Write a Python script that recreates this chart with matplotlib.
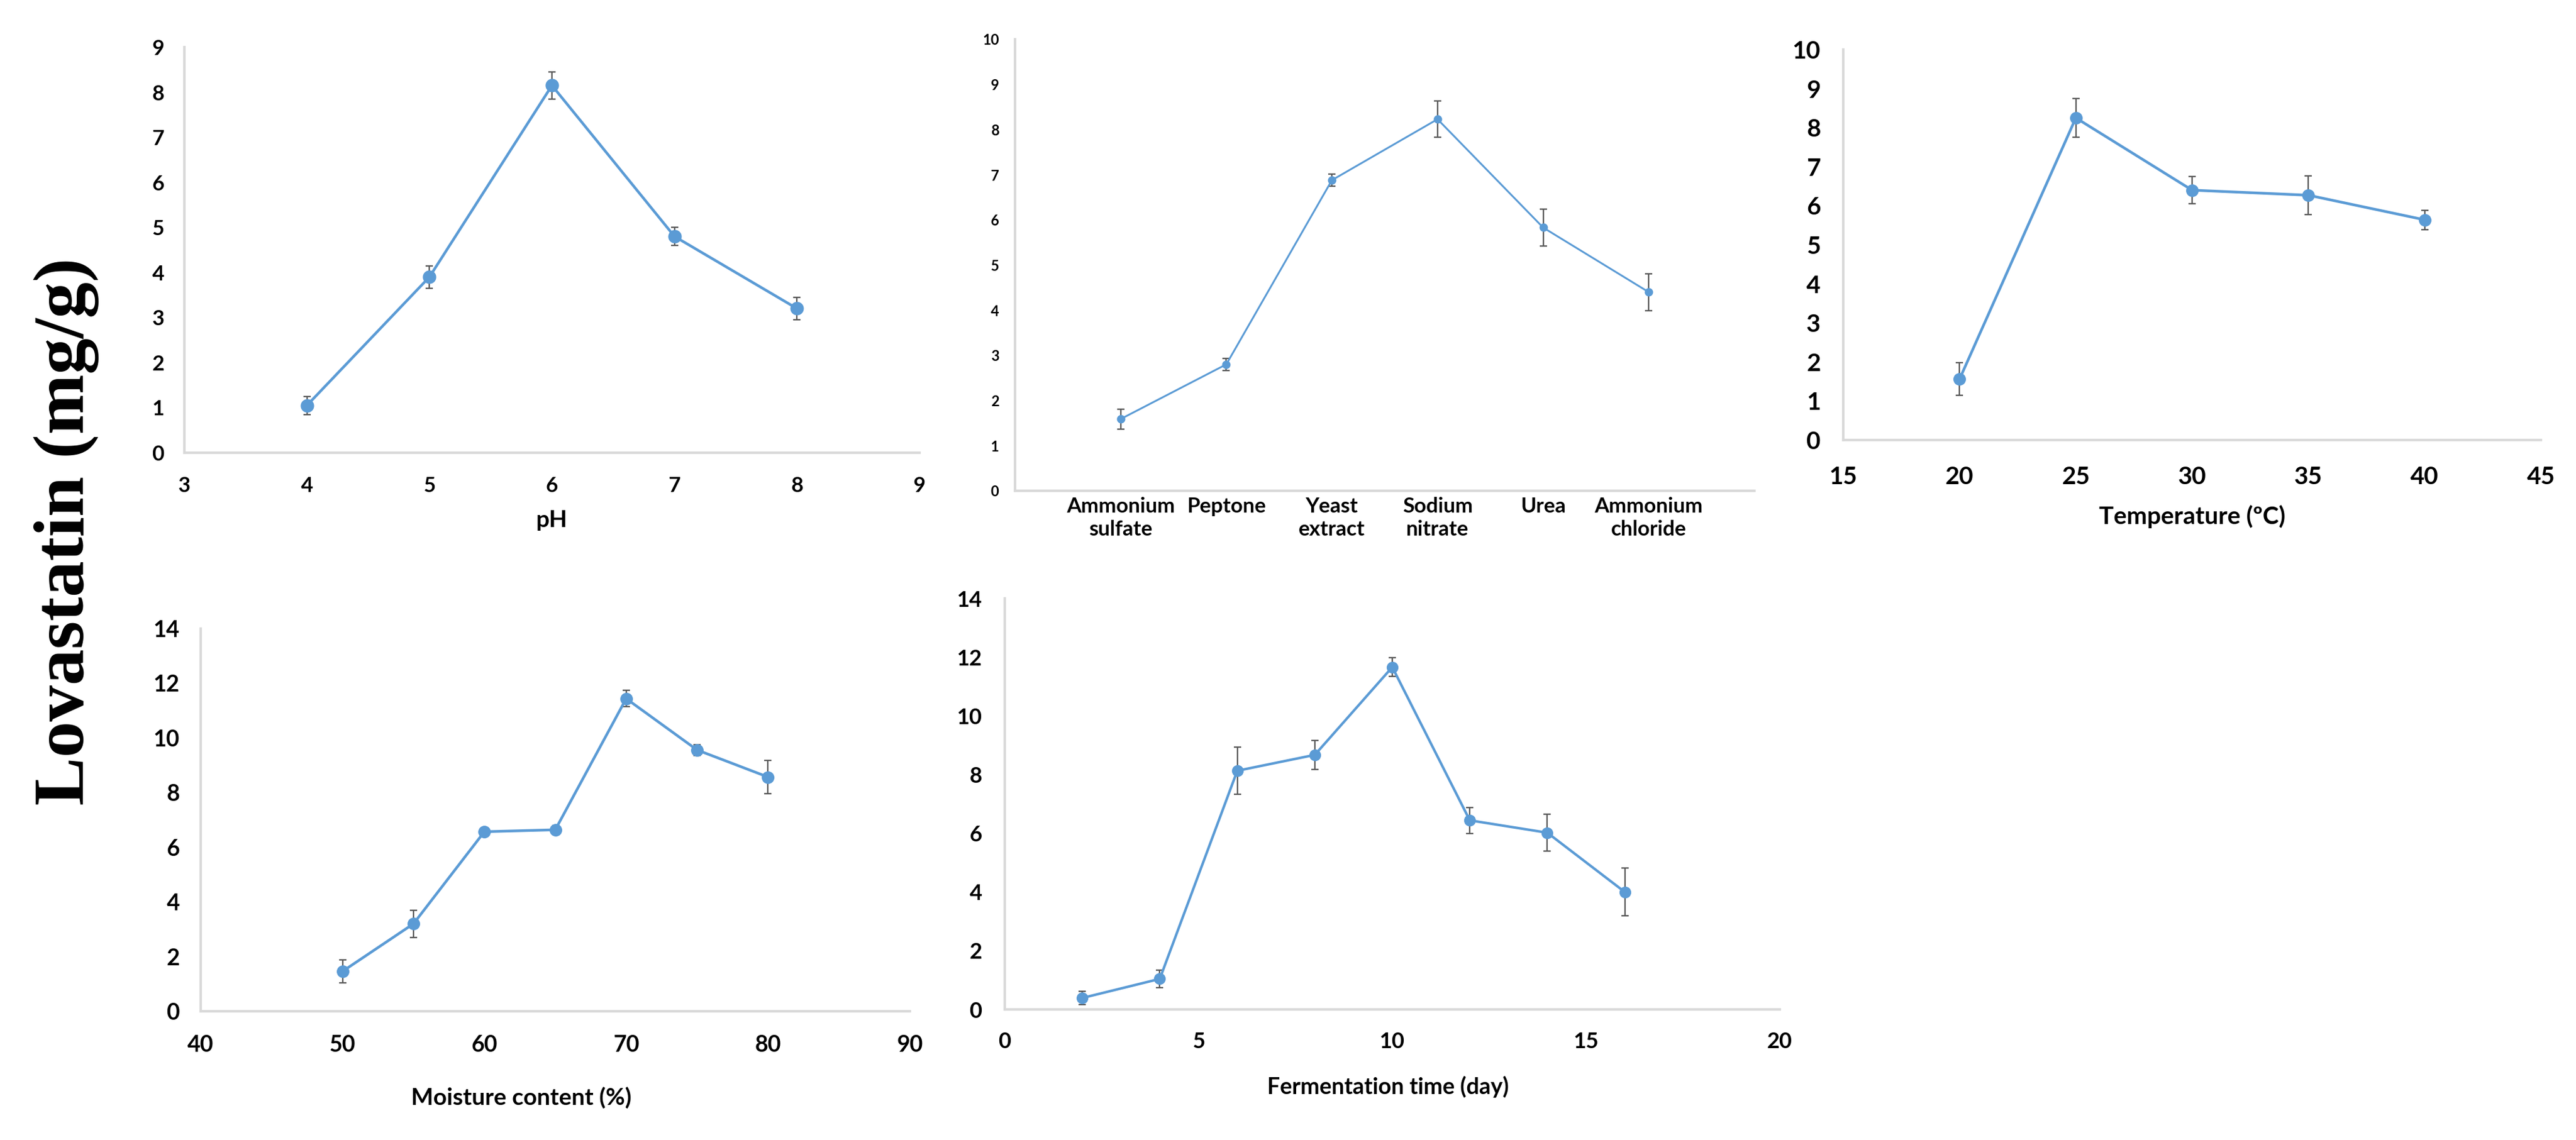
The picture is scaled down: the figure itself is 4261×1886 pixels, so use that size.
import matplotlib.pyplot as plt

# figure is 4261 x 1886 px
W, H = 4261, 1886
DPI = 100

blue = "#5B9BD5"
err_col = "#595959"
spine_col = "#D9D9D9"
tick_font = ["Lato", "DejaVu Sans"]

# pH
ph = [4, 5, 6, 7, 8]
ph_val = [1.05, 3.9, 8.15, 4.8, 3.2]
ph_err = [0.2, 0.25, 0.3, 0.2, 0.25]

# nitrogen source
nitro_names = ["Ammonium\nsulfate", "Peptone", "Yeast\nextract", "Sodium\nnitrate", "Urea", "Ammonium\nchloride"]
nitro_val = [1.59, 2.80, 6.88, 8.23, 5.83, 4.40]
nitro_err = [0.22, 0.13, 0.13, 0.40, 0.41, 0.41]

# temperature
temp = [20, 25, 30, 35, 40]
temp_val = [1.56, 8.25, 6.40, 6.27, 5.64]
temp_err = [0.42, 0.5, 0.35, 0.5, 0.25]

# moisture content
moist = [50, 55, 60, 65, 70, 75, 80]
moist_val = [1.46, 3.2, 6.57, 6.64, 11.44, 9.56, 8.57]
moist_err = [0.41, 0.5, 0.1, 0.15, 0.3, 0.2, 0.6]

# fermentation time
days = [2, 4, 6, 8, 10, 12, 14, 16]
days_val = [0.39, 1.04, 8.13, 8.67, 11.66, 6.44, 6.02, 4.0]
days_err = [0.22, 0.29, 0.8, 0.5, 0.32, 0.44, 0.62, 0.81]


fig = plt.figure(figsize=(W / DPI, H / DPI), dpi=DPI)


def make_ax(left, right, top, bottom):
    # pixel box -> figure fraction
    return fig.add_axes([left / W, 1 - bottom / H, (right - left) / W, (bottom - top) / H])


def style(ax, fs, ypad, xpad):
    for s in ["top", "right"]:
        ax.spines[s].set_visible(False)
    for s in ["left", "bottom"]:
        ax.spines[s].set_color(spine_col)
        ax.spines[s].set_linewidth(3)
    ax.tick_params(axis="both", length=0, labelsize=fs)
    ax.tick_params(axis="y", pad=ypad)
    ax.tick_params(axis="x", pad=xpad)
    for lab in ax.get_xticklabels() + ax.get_yticklabels():
        lab.set_fontfamily(tick_font)
        lab.set_fontweight("bold")


def draw(ax, x, y, e, lw, ms):
    ax.errorbar(x, y, yerr=e, color=blue, lw=lw, marker="o", ms=ms,
                ecolor=err_col, elinewidth=1.7, capsize=4, capthick=1.7, zorder=3)


def xlab(text, xpx, ypx, fs):
    fig.text(xpx / W, 1 - ypx / H, text, ha="center", va="center",
             fontsize=fs, fontweight="bold", family=tick_font)


# panel 1 - pH
ax1 = make_ax(305, 1521, 78, 749)
draw(ax1, ph, ph_val, ph_err, 3.2, 15)
ax1.set_xlim(3, 9)
ax1.set_ylim(0, 9)
ax1.set_xticks(range(3, 10))
ax1.set_yticks(range(0, 10))
style(ax1, 25, 24, 28)
xlab("pH", 913, 861, 28)

# panel 2 - nitrogen source
ax2 = make_ax(1679, 2902, 65, 812)
draw(ax2, nitro_names, nitro_val, nitro_err, 2.2, 9)
ax2.set_xlim(-1, 6)
ax2.set_ylim(0, 10)
ax2.set_yticks(range(0, 11))
style(ax2, 17, 19, 7)
for lab in ax2.get_xticklabels():
    lab.set_fontsize(25)
    lab.set_linespacing(1.25)

# panel 3 - temperature
ax3 = make_ax(3049, 4203, 82, 728)
draw(ax3, temp, temp_val, temp_err, 3.2, 14)
ax3.set_xlim(15, 45)
ax3.set_ylim(0, 10)
ax3.set_xticks(range(15, 50, 5))
ax3.set_yticks(range(0, 11))
style(ax3, 29, 27, 31)
xlab("Temperature (ºC)", 3626, 855, 29)

# panel 4 - moisture
ax4 = make_ax(332, 1505, 1040, 1673)
draw(ax4, moist, moist_val, moist_err, 3.2, 14)
ax4.set_xlim(40, 90)
ax4.set_ylim(0, 14)
ax4.set_xticks(range(40, 100, 10))
ax4.set_yticks(range(0, 16, 2))
style(ax4, 27, 25, 28)
xlab("Moisture content (%)", 862, 1816, 28)

# panel 5 - fermentation time
ax5 = make_ax(1662, 2944, 990, 1670)
draw(ax5, days, days_val, days_err, 3.0, 13)
ax5.set_xlim(0, 20)
ax5.set_ylim(0, 14)
ax5.set_xticks(range(0, 25, 5))
ax5.set_yticks(range(0, 16, 2))
style(ax5, 26, 27, 27)
xlab("Fermentation time (day)", 2296, 1798, 27)

# shared y label
fig.text(110 / W, 1 - 879 / H, "Lovastatin (mg/g)", rotation=90, ha="center", va="center",
         fontsize=86, fontweight="bold", family=["Liberation Serif", "DejaVu Serif"])

fig.savefig("out.png", dpi=DPI)
